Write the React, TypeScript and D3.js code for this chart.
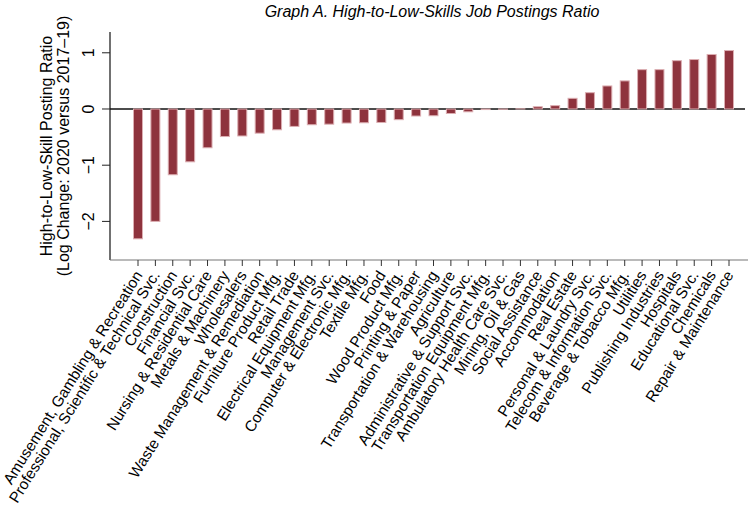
import React, { useEffect, useRef } from 'react'
import * as d3 from 'd3'

const industries = [
  'Amusement, Gambling & Recreation',
  'Professional, Scientific & Technical Svc.',
  'Construction',
  'Financial Svc.',
  'Nursing & Residential Care',
  'Metals & Machinery',
  'Wholesalers',
  'Waste Management & Remediation',
  'Furniture Product Mfg.',
  'Retail Trade',
  'Electrical Equipment Mfg.',
  'Management Svc.',
  'Computer & Electronic Mfg.',
  'Textile Mfg.',
  'Food',
  'Wood Product Mfg.',
  'Printing & Paper',
  'Transportation & Warehousing',
  'Agriculture',
  'Administrative & Support Svc.',
  'Transportation Equipment Mfg.',
  'Ambulatory Health Care Svc.',
  'Mining, Oil & Gas',
  'Social Assistance',
  'Accommodation',
  'Real Estate',
  'Personal & Laundry Svc.',
  'Telecom & Information Svc.',
  'Beverage & Tobacco Mfg.',
  'Utilities',
  'Publishing Industries',
  'Hospitals',
  'Educational Svc.',
  'Chemicals',
  'Repair & Maintenance'
]

const logChange = [
  -2.31, -2.0, -1.17, -0.94, -0.69, -0.49, -0.48, -0.43, -0.37, -0.31,
  -0.28, -0.27, -0.25, -0.245, -0.24, -0.19, -0.125, -0.12, -0.08, -0.05,
  -0.01, -0.005, 0.003, 0.04, 0.06, 0.19, 0.29, 0.41, 0.5, 0.7,
  0.7, 0.86, 0.88, 0.97, 1.04
]

const yTicks = [-2, -1, 0, 1]

const title = 'Graph A. High-to-Low-Skills Job Postings Ratio'
const yTitle = ['High-to-Low-Skill Posting Ratio', '(Log Change: 2020 versus 2017\u201319)']

export default function App() {
  const svgRef = useRef<SVGSVGElement>(null)

  useEffect(() => {
    if (!svgRef.current) return
    const svg = d3.select(svgRef.current)
    svg.selectAll('*').remove()

    const font = '"Liberation Sans", Arial, Helvetica, sans-serif'
    const left = 110
    const right = 748
    const top = 32
    const bottom = 260

    const x = d3.scalePoint<string>().domain(industries).range([138, 729])
    const y = d3.scaleLinear().domain([-2.687, 1.37]).range([bottom, top])
    const barW = 9

    // title
    svg.append('text')
      .attr('x', 432)
      .attr('y', 17)
      .attr('text-anchor', 'middle')
      .attr('font-family', font)
      .attr('font-size', 16)
      .attr('font-style', 'italic')
      .text(title)

    // y axis title
    yTitle.forEach((t, i) => {
      svg.append('text')
        .attr('transform', `translate(${52 + i * 16.5},${(top + bottom) / 2}) rotate(-90)`)
        .attr('text-anchor', 'middle')
        .attr('font-family', font)
        .attr('font-size', 16)
        .text(t)
    })

    // y axis
    svg.append('line')
      .attr('x1', left).attr('x2', left)
      .attr('y1', top).attr('y2', bottom)
      .attr('stroke', '#111')
      .attr('stroke-width', 1.2)

    yTicks.forEach(t => {
      svg.append('line')
        .attr('x1', left - 8).attr('x2', left)
        .attr('y1', y(t)).attr('y2', y(t))
        .attr('stroke', '#222')
        .attr('stroke-width', 1)
      svg.append('text')
        .attr('transform', `translate(94,${y(t)}) rotate(-90)`)
        .attr('text-anchor', 'middle')
        .attr('font-family', font)
        .attr('font-size', 16)
        .text(t < 0 ? '\u2212' + Math.abs(t) : String(t))
    })

    // zero line (bars are drawn over it)
    svg.append('line')
      .attr('x1', left).attr('x2', 745)
      .attr('y1', y(0)).attr('y2', y(0))
      .attr('stroke', '#111')
      .attr('stroke-width', 1.6)

    // bars
    svg.append('g')
      .selectAll('rect')
      .data(logChange)
      .join('rect')
      .attr('x', (_, i) => x(industries[i])! - barW / 2)
      .attr('y', d => Math.min(y(d), y(0)))
      .attr('width', barW)
      .attr('height', d => Math.abs(y(d) - y(0)))
      .attr('fill', '#8e333d')
      .attr('stroke', '#dcaeb2')
      .attr('stroke-width', 1)

    // x axis
    svg.append('line')
      .attr('x1', left).attr('x2', right)
      .attr('y1', bottom).attr('y2', bottom)
      .attr('stroke', '#777')
      .attr('stroke-width', 1.2)

    industries.forEach(name => {
      const px = x(name)!
      svg.append('line')
        .attr('x1', px).attr('x2', px)
        .attr('y1', bottom).attr('y2', bottom + 6)
        .attr('stroke', '#333')
        .attr('stroke-width', 1)
      svg.append('text')
        .attr('transform', `translate(${px + 5},${bottom + 15}) rotate(-58)`)
        .attr('text-anchor', 'end')
        .attr('font-family', font)
        .attr('font-size', 15.3)
        .text(name)
    })
  }, [])

  return (
    <svg
      ref={svgRef}
      width={748}
      height={523}
      style={{ position: 'absolute', left: 0, top: 0, background: '#fff' }}
    />
  )
}
